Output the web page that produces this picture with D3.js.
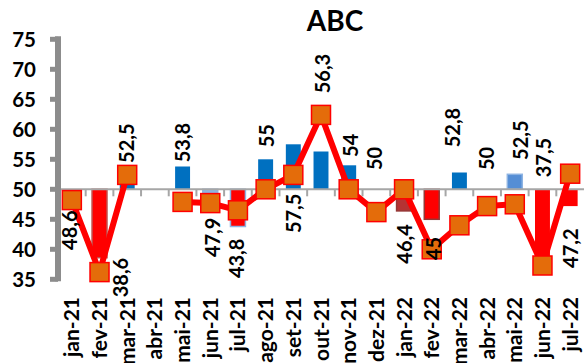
<!DOCTYPE html>
<html>
<head>
<meta charset="utf-8">
<script src="https://cdn.jsdelivr.net/npm/d3@7"></script>
<style>
  html, body { margin: 0; padding: 0; background: #fff; }
  svg { display: block; }
  text { font-family: Lato, "Open Sans", sans-serif; font-weight: bold; fill: #000; }
</style>
</head>
<body>
<svg id="chart" width="584" height="363"></svg>
<script>
// ---- data ----
const categories = ["jan-21","fev-21","mar-21","abr-21","mai-21","jun-21","jul-21","ago-21","set-21","out-21",
                    "nov-21","dez-21","jan-22","fev-22","mar-22","abr-22","mai-22","jun-22","jul-22"];
const barValues  = [48.6, 38.6, 52.5, null, 53.8, 47.9, 43.8, 55, 57.5, 56.3,
                    54, 50, 46.4, 45, 52.8, 50, 52.5, 37.5, 47.2];
const lineValues = [48.2, 36.2, 52.4, null, 47.9, 47.7, 46.5, 50.0, 52.4, 62.4,
                    50.0, 46.2, 50.0, 40.0, 44.0, 47.2, 47.5, 37.3, 52.6];
const yTicks = [35, 40, 45, 50, 55, 60, 65, 70, 75];
const baseline = 50;
const title = "ABC";

// ---- layout ----
const W = 584, H = 363;
const plot = { left: 58, right: 584, top: 39.3, bottom: 279.3 };
// where each value label starts (value units) and its sideways nudge (px)
const labelAt = [39.9, 32.0, 54.4, null, 54.5, 38.7, 35.2, 57.0, 42.7, 66.0,
                 55.4, 53.2, 37.6, 38.2, 57.0, 53.2, 54.9, 52.0, 36.9];
const labelDx = [-2, 21, 0, 0, 0, 3, -1, 1, 1, 2, 2, -1, 1, 2, -6, 0, 6, 2, 1];

// ---- styles ----
const blue = "#0070C0", red = "#FF0000";
const barStyleOverrides = {
  "fev-21": { fill: red, stroke: "#C0504D" },
  "jun-21": { fill: "#8DB3E2", stroke: "#8DB3E2" },
  "jul-21": { fill: red, stroke: "#8DB3E2" },
  "jan-22": { fill: "#B53333", stroke: "#953735" },
  "fev-22": { fill: red, stroke: "#953735" },
  "mai-22": { fill: "#558ED5", stroke: "#8DB3E2" }
};

const svg = d3.select("#chart");
const fmt = d3.formatLocale({ decimal: ",", thousands: ".", grouping: [3], currency: ["", ""] }).format(".1~f");

const x = d3.scaleBand().domain(categories)
  .range([plot.left, plot.right]).paddingInner(0.46).paddingOuter(0.23);
const y = d3.scaleLinear().domain([35, 75]).range([plot.bottom, plot.top]);
const step = x.step();
const cx = c => x(c) + x.bandwidth() / 2;

const rows = categories.map((c, i) => ({ c, i, bar: barValues[i], line: lineValues[i] }));

// bars grow from the 50 line
svg.append("g").selectAll("rect")
  .data(rows.filter(d => d.bar != null && d.bar !== baseline))
  .join("rect")
  .attr("x", d => x(d.c))
  .attr("width", x.bandwidth())
  .attr("y", d => y(Math.max(d.bar, baseline)))
  .attr("height", d => Math.abs(y(d.bar) - y(baseline)))
  .attr("fill", d => (barStyleOverrides[d.c] || {}).fill || (d.bar >= baseline ? blue : red))
  .attr("stroke", d => (barStyleOverrides[d.c] || {}).stroke || "none")
  .attr("stroke-width", 1.5);

// horizontal category axis through 50
const xAxisG = svg.append("g");
xAxisG.append("line")
  .attr("x1", plot.left).attr("x2", plot.right)
  .attr("y1", y(baseline)).attr("y2", y(baseline))
  .attr("stroke", "#A6A6A6").attr("stroke-width", 2);
xAxisG.selectAll("line.tick")
  .data(categories.slice(1))
  .join("line").attr("class", "tick")
  .attr("x1", c => x(c) - step * 0.23).attr("x2", c => x(c) - step * 0.23)
  .attr("y1", y(baseline)).attr("y2", y(baseline) + 7)
  .attr("stroke", "#A6A6A6").attr("stroke-width", 2);

// vertical value axis
const yAxisG = svg.append("g");
yAxisG.append("line")
  .attr("x1", plot.left).attr("x2", plot.left)
  .attr("y1", plot.top - 3).attr("y2", plot.bottom + 2)
  .attr("stroke", "#8C8C8C").attr("stroke-width", 6);
yAxisG.selectAll("line.tick")
  .data(yTicks).join("line").attr("class", "tick")
  .attr("x1", plot.left - 8).attr("x2", plot.left)
  .attr("y1", d => y(d)).attr("y2", d => y(d))
  .attr("stroke", "#8C8C8C").attr("stroke-width", 5);
yAxisG.selectAll("text")
  .data(yTicks).join("text")
  .attr("x", 36).attr("y", d => y(d))
  .attr("dy", "0.36em")
  .attr("text-anchor", "end")
  .attr("font-size", 20.5)
  .text(d => d);

// category labels, rotated
svg.append("g").selectAll("text")
  .data(categories).join("text")
  .attr("transform", c => `translate(${cx(c) + 7.5},297) rotate(-90)`)
  .attr("text-anchor", "end")
  .attr("font-size", 21)
  .text(c => c);

// line series
const line = d3.line()
  .defined(d => d.line != null)
  .x(d => cx(d.c))
  .y(d => y(d.line));
svg.append("path")
  .datum(rows)
  .attr("d", line)
  .attr("fill", "none")
  .attr("stroke", red)
  .attr("stroke-width", 6)
  .attr("stroke-linejoin", "round");

const m = 19;
svg.append("g").selectAll("rect")
  .data(rows.filter(d => d.line != null))
  .join("rect")
  .attr("x", d => cx(d.c) - m / 2)
  .attr("y", d => y(d.line) - m / 2)
  .attr("width", m).attr("height", m)
  .attr("fill", "#E46C0A")
  .attr("stroke", red)
  .attr("stroke-width", 1.5);

// value labels for the bars
svg.append("g").selectAll("text")
  .data(rows.filter(d => d.bar != null))
  .join("text")
  .attr("transform", d => `translate(${cx(d.c) + labelDx[d.i] + 7},${y(labelAt[d.i])}) rotate(-90)`)
  .attr("text-anchor", "start")
  .attr("font-size", 20)
  .text(d => fmt(d.bar));

// title
svg.append("text")
  .attr("x", 335).attr("y", 31)
  .attr("text-anchor", "middle")
  .attr("font-size", 28)
  .text(title);
</script>
</body>
</html>
